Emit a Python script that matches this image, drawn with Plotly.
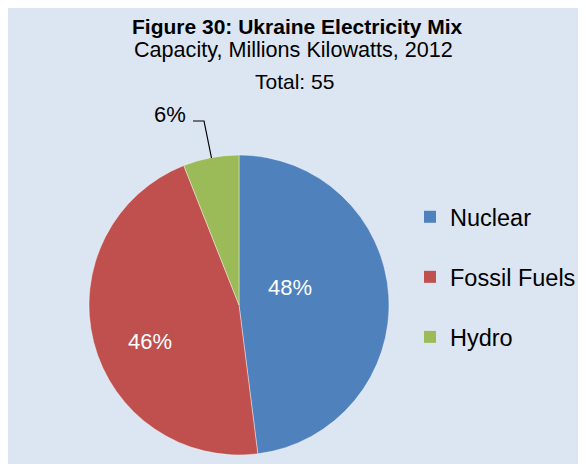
import plotly.graph_objects as go

# ---- data ----
categories = ["Nuclear", "Fossil Fuels", "Hydro"]
shares = [48, 46, 6]
colors = ["#4F81BD", "#C0504D", "#9BBB59"]
title_lines = ["Figure 30: Ukraine Electricity Mix",
               "Capacity, Millions Kilowatts, 2012",
               "Total: 55"]

# the page adds an 8px body margin, so the figure starts at (8, 8)
OFF = 8
W, H = 586 - OFF, 464 - OFF


def px(x):
    return (x - OFF) / W


def py(y):
    return (464 - y) / H


FONT = "Liberation Sans, Arial, sans-serif"
BG = "#DCE6F2"

fig = go.Figure()

# pie: centre (239,305), radius 150 px (reference coordinates)
cx, cy, r = 239, 305, 150
fig.add_trace(go.Pie(
    labels=categories,
    values=shares,
    marker=dict(colors=colors, line=dict(color="rgba(255,255,255,0.5)", width=0.8)),
    sort=False,
    direction="clockwise",
    rotation=0,
    textinfo="none",
    showlegend=False,
    domain=dict(x=[px(cx - r), px(cx + r)], y=[py(cy + r), py(cy - r)]),
    hoverinfo="label+percent",
))

# legend entries (separate groups so rows can be spaced like the original)
for name, col in zip(categories, colors):
    fig.add_trace(go.Scatter(
        x=[None], y=[None], mode="markers", name=name, legendgroup=name,
        marker=dict(symbol="square", size=12, color=col),
    ))

fig.update_xaxes(visible=False)
fig.update_yaxes(visible=False)

# slice label positions (reference coordinates)
label_pos = [(290, 287), (150, 341), (170, 114.5)]
label_col = ["white", "white", "black"]

annotations = [
    dict(text="<b>" + title_lines[0] + "</b>", x=px(297), y=py(26), xref="paper", yref="paper",
         showarrow=False, font=dict(family=FONT, size=21, color="black"), xanchor="center", yanchor="middle"),
    dict(text=title_lines[1], x=px(293), y=py(50), xref="paper", yref="paper",
         showarrow=False, font=dict(family=FONT, size=21.6, color="black"), xanchor="center", yanchor="middle"),
    dict(text=title_lines[2], x=px(294), y=py(81.5), xref="paper", yref="paper",
         showarrow=False, font=dict(family=FONT, size=21, color="black"), xanchor="center", yanchor="middle"),
]
for s, (lx, ly), c in zip(shares, label_pos, label_col):
    annotations.append(dict(text=f"{s}%", x=px(lx), y=py(ly), xref="paper", yref="paper",
                            showarrow=False, font=dict(family=FONT, size=22, color=c),
                            xanchor="center", yanchor="middle"))

shapes = [
    dict(type="rect", xref="paper", yref="paper", x0=0, x1=1, y0=0, y1=1,
         fillcolor=BG, line=dict(width=0), layer="below"),
    dict(type="path", xref="paper", yref="paper",
         path=f"M {px(193)} {py(121)} L {px(204)} {py(121)} L {px(211.5)} {py(158)}",
         line=dict(color="black", width=1.2)),
]

fig.update_layout(
    width=W, height=H,
    margin=dict(l=0, t=0, r=0, b=0, pad=0),
    paper_bgcolor=BG,
    plot_bgcolor="rgba(0,0,0,0)",
    font=dict(family=FONT, color="black"),
    annotations=annotations,
    shapes=shapes,
    legend=dict(
        x=px(410), y=py(195), xanchor="left", yanchor="top",
        font=dict(family=FONT, size=23.5, color="black"),
        traceorder="grouped", tracegroupgap=26.5,
        bgcolor="rgba(0,0,0,0)",
        itemclick=False, itemdoubleclick=False,
    ),
)

fig.write_html("out.html")
